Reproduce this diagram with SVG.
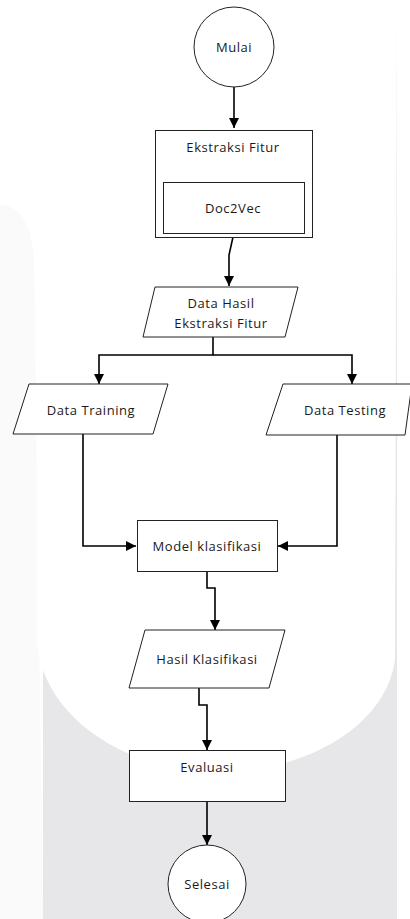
<svg xmlns="http://www.w3.org/2000/svg" width="410" height="919" viewBox="0 0 410 919">
<defs>
<marker id="ah" viewBox="0 0 10 10" refX="10" refY="5" markerWidth="10" markerHeight="10" markerUnits="userSpaceOnUse" orient="auto">
<path d="M0,0 L10,5 L0,10 Z" fill="#000"/>
</marker>
<style>
.n{fill:#fff;stroke:#222;stroke-width:1}
.t{font-family:"Open Sans","Liberation Sans",sans-serif;font-size:13px;fill:#1a1a1a;text-anchor:middle;letter-spacing:0.55px}
.c{fill:none;stroke:#000;stroke-width:1.6;marker-end:url(#ah)}
</style>
</defs>
<g id="background">
<rect x="0" y="0" width="410" height="919" fill="#fff"/>
<path d="M0,205 Q30,205 34,260 L43,919 L0,919 Z" fill="#fafafa"/>
<rect x="43" y="0" width="354" height="919" fill="#e7e7e9"/>
<path d="M36,0 L37,640 C42,720 130,771 217,773 C300,772 385,730 395,660 L397,0 Z" fill="#fff"/>
</g>
<g id="connectors">
<path class="c" d="M234,87 L234,128"/>
<path class="c" d="M233,237 L229,255 L229,286"/>
<path class="c" d="M213,337 L213,355 L99,355 L99,384"/>
<path class="c" d="M213,355 L352,355 L352,384"/>
<path class="c" d="M83,434 L83,546 L136,546"/>
<path class="c" d="M337,435 L337,546 L278,546"/>
<path class="c" d="M207,571 L207,588 L215,588 L215,630"/>
<path class="c" d="M199,688 L199,705 L207,705 L207,750"/>
<path class="c" d="M207,801 L207,845"/>
</g>
<g id="mulai">
<circle class="n" cx="234" cy="47" r="40"/>
<text class="t" x="234" y="52">Mulai</text>
</g>
<g id="ekstraksi">
<rect class="n" x="155.5" y="130.5" width="157" height="107"/>
<text class="t" x="233" y="152">Ekstraksi Fitur</text>
</g>
<g id="doc2vec">
<rect class="n" x="163.5" y="182.5" width="141" height="51"/>
<text class="t" x="233" y="213">Doc2Vec</text>
</g>
<g id="data-hasil">
<path class="n" d="M155,287 L298,287 L285,337 L143,337 Z"/>
<text class="t" x="221" y="308">Data Hasil</text>
<text class="t" x="221" y="328">Ekstraksi Fitur</text>
</g>
<g id="data-training">
<path class="n" d="M29,384 L168,384 L153,434 L13,434 Z"/>
<text class="t" x="91" y="415">Data Training</text>
</g>
<g id="data-testing">
<path class="n" d="M283,384 L412,384 L405,435 L266,435 Z"/>
<text class="t" x="345" y="415">Data Testing</text>
</g>
<g id="model">
<rect class="n" x="137.5" y="520.5" width="140" height="51"/>
<text class="t" x="207" y="551">Model klasifikasi</text>
</g>
<g id="hasil-klasifikasi">
<path class="n" d="M145,630 L285,630 L269,688 L129,688 Z"/>
<text class="t" x="207" y="664">Hasil Klasifikasi</text>
</g>
<g id="evaluasi">
<rect class="n" x="129.5" y="750.5" width="156" height="51"/>
<text class="t" x="207" y="772">Evaluasi</text>
</g>
<g id="selesai">
<circle class="n" cx="207" cy="884" r="39"/>
<text class="t" x="207" y="889">Selesai</text>
</g>
</svg>
